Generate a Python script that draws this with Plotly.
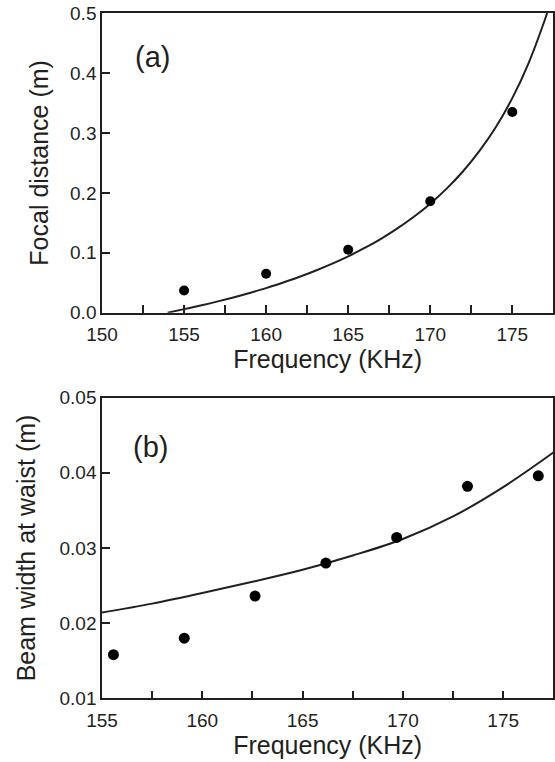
import plotly.graph_objects as go

# ---- panel (a): focal distance ----
freq_a = [155, 160, 165, 170, 175]
focal_meas = [0.037, 0.065, 0.105, 0.186, 0.335]
curve_a_x = [154, 155, 156, 157, 158, 159, 160, 161, 162, 163, 164, 165, 166,
             167, 168, 169, 170, 171, 172, 173, 174, 175, 176, 177, 177.12]
curve_a_y = [0.0, 0.006, 0.012, 0.0185, 0.0255, 0.033, 0.041, 0.050, 0.0595,
             0.070, 0.0814, 0.094, 0.108, 0.1233, 0.1406, 0.160, 0.182, 0.207,
             0.236, 0.270, 0.310, 0.358, 0.417, 0.490, 0.5]

# ---- panel (b): beam width at waist ----
freq_b = [155.57, 159.1, 162.63, 166.16, 169.69, 173.22, 176.75]
width_meas = [0.0158, 0.0180, 0.0236, 0.0280, 0.0314, 0.0382, 0.0396]
curve_b_x = [155, 157.5, 160, 162.5, 165, 167.5, 170, 172.5, 175, 177.5]
curve_b_y = [0.0214, 0.0226, 0.0240, 0.0255, 0.0271, 0.0290, 0.0312, 0.0342,
             0.0381, 0.0427]

xticks_a = [150, 152.5, 155, 157.5, 160, 162.5, 165, 167.5, 170, 172.5, 175]
xticks_b = [155, 157.5, 160, 162.5, 165, 167.5, 170, 172.5, 175]
yticks_a = [0.0, 0.1, 0.2, 0.3, 0.4, 0.5]
yticks_b = [0.01, 0.02, 0.03, 0.04, 0.05]

INK = "#231f20"
FONT = "Liberation Sans, Arial, sans-serif"

fig = go.Figure()
fig.add_trace(go.Scatter(x=curve_a_x, y=curve_a_y, mode="lines", line=dict(color=INK, width=2, shape="spline"),
                         xaxis="x", yaxis="y", showlegend=False))
fig.add_trace(go.Scatter(x=freq_a, y=focal_meas, mode="markers", marker=dict(color="black", size=10),
                         xaxis="x", yaxis="y", showlegend=False))
fig.add_trace(go.Scatter(x=curve_b_x, y=curve_b_y, mode="lines", line=dict(color=INK, width=2, shape="spline"),
                         xaxis="x2", yaxis="y2", showlegend=False))
fig.add_trace(go.Scatter(x=freq_b, y=width_meas, mode="markers", marker=dict(color="black", size=11),
                         xaxis="x2", yaxis="y2", showlegend=False))

def lab(v, every):
    return str(int(v)) if abs(v / every - round(v / every)) < 1e-9 else ""

axis_common = dict(showline=True, linecolor=INK, linewidth=1.5, mirror=True, ticks="inside",
                   ticklen=8, tickwidth=1.5, tickcolor=INK, showgrid=False, zeroline=False,
                   automargin=False, tickfont=dict(family=FONT, size=19, color=INK))

title_font = dict(family=FONT, size=25, color=INK)

fig.update_layout(
    width=555, height=762, margin=dict(l=0, r=0, t=0, b=0),
    paper_bgcolor="white", plot_bgcolor="white",
    font=dict(family=FONT, color=INK),
    xaxis=dict(domain=[0.1838, 0.997], range=[150, 177.5], anchor="y",
               tickmode="array", tickvals=xticks_a, ticktext=[lab(v, 5) for v in xticks_a],
               ticklabelstandoff=4,
               title=dict(text="Frequency (KHz)", font=title_font, standoff=3),
               **axis_common),
    yaxis=dict(domain=[0.5896, 0.9829], range=[0, 0.5], anchor="x",
               tickmode="array", tickvals=yticks_a, ticktext=[f"{v:.1f}" for v in yticks_a],
               title=dict(text="Focal distance (m)", font=title_font, standoff=14),
               **axis_common),
    xaxis2=dict(domain=[0.1838, 0.997], range=[155, 177.5], anchor="y2",
                tickmode="array", tickvals=xticks_b, ticktext=[lab(v, 5) for v in xticks_b],
                ticklabelstandoff=4,
                title=dict(text="Frequency (KHz)", font=title_font, standoff=4),
                **axis_common),
    yaxis2=dict(domain=[0.0836, 0.4781], range=[0.01, 0.05], anchor="x2",
                tickmode="array", tickvals=yticks_b, ticktext=[f"{v:.2f}" for v in yticks_b],
                title=dict(text="Beam width at waist (m)", font=title_font, standoff=17),
                **axis_common),
    annotations=[
        dict(x=153.1, y=0.427, xref="x", yref="y", text="(a)", showarrow=False,
             font=dict(family=FONT, size=29, color=INK)),
        dict(x=157.42, y=0.0434, xref="x2", yref="y2", text="(b)", showarrow=False,
             font=dict(family=FONT, size=29, color=INK)),
    ],
)

fig.write_html("out.html", config={"displayModeBar": False},
               post_script="document.body.style.margin='0';document.body.style.padding='0';")
